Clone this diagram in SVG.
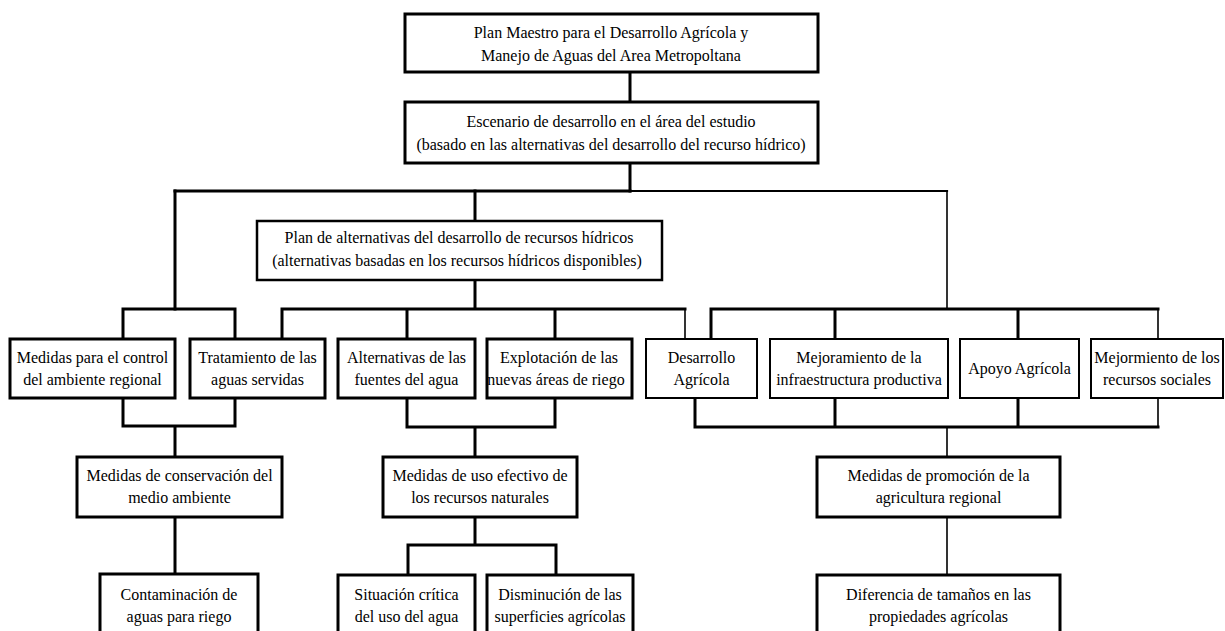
<svg xmlns="http://www.w3.org/2000/svg" width="1225" height="631" viewBox="0 0 1225 631">
<style>
.box{fill:#fff;stroke:#000;stroke-width:3}
.box.t{stroke-width:2}
.lbl text{font-size:16px;fill:#000;text-anchor:middle}
.c path{fill:none;stroke:#000;stroke-width:3;stroke-linecap:square}
.c path.thin{stroke-width:1.6}
.c path.mid{stroke-width:2.2}
</style>
<rect width="1225" height="631" fill="#fff"/>
<g class="c" id="connectors">
<path d="M630 72V102M630 163V191"/>
<path d="M175 191H630"/>
<path class="mid" d="M630 191H947"/>
<path class="thin" d="M947 191V309"/>
<path d="M175 191V309M475 191V221"/>
<path d="M123 339V309H235V339"/>
<path d="M475 280V309M282 339V309H685M407 309V339M555 309V339"/>
<path class="thin" d="M685 309V339"/>
<path d="M711 339V309H1158M835 309V339M1018 309V339"/>
<path class="thin" d="M1158 309V339"/>
<path d="M123 398V426H235V398M175 426V457M175 517V574"/>
<path d="M407 398V427H555V398M475 427V457M475 517V545M408 575V545H556V575"/>
<path d="M695 398V427H1158M835 398V427M1018 398V427"/>
<path class="thin" d="M1158 398V427M947 427V457M947 517V575"/>
</g>
<g class="lbl" font-family="'Liberation Serif', 'Times New Roman', 'DejaVu Serif', serif">
<g id="n-top"><rect class="box" x="405" y="14" width="413" height="58"/><text x="611" y="38">Plan Maestro para el Desarrollo Agrícola y</text><text x="611" y="61">Manejo de Aguas del Area Metropoltana</text></g>
<g id="n-escenario"><rect class="box" x="405" y="102" width="413" height="61"/><text x="611" y="127">Escenario de desarrollo en el área del estudio</text><text x="611" y="150">(basado en las alternativas del desarrollo del recurso hídrico)</text></g>
<g id="n-plan"><rect class="box" style="stroke-width:2.5" x="257" y="221" width="405" height="59"/><text x="459" y="243">Plan de alternativas del desarrollo de recursos hídricos</text><text x="457" y="266">(alternativas basadas en los recursos hídricos disponibles)</text></g>
<g id="n-control"><rect class="box" x="10" y="339" width="165" height="59"/><text x="92.5" y="363">Medidas para el control</text><text x="92.5" y="385">del ambiente regional</text></g>
<g id="n-tratamiento"><rect class="box" x="190" y="339" width="135" height="59"/><text x="257.5" y="363">Tratamiento de las</text><text x="257.5" y="385">aguas servidas</text></g>
<g id="n-alternativas"><rect class="box" x="338" y="339" width="137" height="59"/><text x="406.5" y="363">Alternativas de las</text><text x="406.5" y="385">fuentes del agua</text></g>
<g id="n-explotacion"><rect class="box" x="487" y="339" width="145" height="59"/><text x="559" y="363">Explotación de las</text><text x="556" y="385">nuevas áreas de riego</text></g>
<g id="n-desarrollo"><rect class="box t" x="646" y="339" width="111" height="59"/><text x="701.5" y="363">Desarrollo</text><text x="701.5" y="385">Agrícola</text></g>
<g id="n-mejoramiento"><rect class="box t" x="770" y="339" width="178" height="59"/><text x="859" y="363">Mejoramiento de la</text><text x="859" y="385">infraestructura productiva</text></g>
<g id="n-apoyo"><rect class="box t" x="960" y="339" width="119" height="59"/><text x="1019.5" y="374">Apoyo Agrícola</text></g>
<g id="n-mejormiento"><rect class="box t" x="1091" y="339" width="132" height="59"/><text x="1157" y="363">Mejormiento de los</text><text x="1157" y="385">recursos sociales</text></g>
<g id="n-conservacion"><rect class="box" x="77" y="457" width="205" height="60"/><text x="179.5" y="481">Medidas de conservación del</text><text x="179.5" y="503">medio ambiente</text></g>
<g id="n-uso"><rect class="box" x="383" y="457" width="194" height="60"/><text x="480" y="481">Medidas de uso efectivo de</text><text x="480" y="503">los recursos naturales</text></g>
<g id="n-promocion"><rect class="box" x="817" y="457" width="243" height="60"/><text x="938.5" y="481">Medidas de promoción de la</text><text x="938.5" y="503">agricultura regional</text></g>
<g id="n-contaminacion"><rect class="box" x="100" y="574" width="158" height="70"/><text x="179" y="600">Contaminación de</text><text x="179" y="622">aguas para riego</text></g>
<g id="n-situacion"><rect class="box" x="338" y="575" width="137" height="70"/><text x="406.5" y="600">Situación crítica</text><text x="406.5" y="622">del uso del agua</text></g>
<g id="n-disminucion"><rect class="box" x="487" y="575" width="146" height="70"/><text x="560" y="600">Disminución de las</text><text x="560" y="622">superficies agrícolas</text></g>
<g id="n-diferencia"><rect class="box" x="817" y="575" width="243" height="70"/><text x="938.5" y="600">Diferencia de tamaños en las</text><text x="938.5" y="622">propiedades agrícolas</text></g>
</g>
</svg>
